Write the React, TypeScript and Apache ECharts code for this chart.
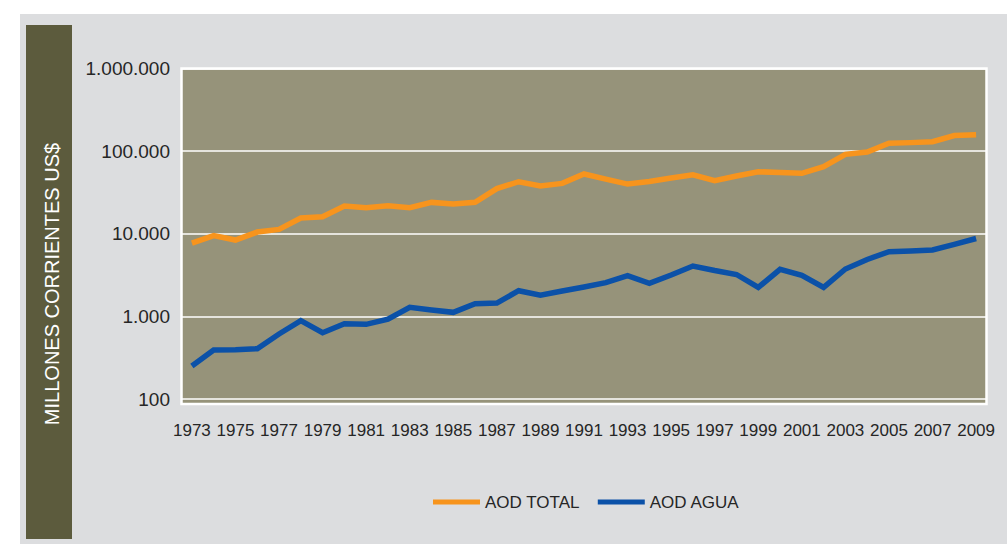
import React, { useEffect, useRef } from "react";
import * as echarts from "echarts";

const years: string[] = [
  "1973","1974","1975","1976","1977","1978","1979","1980","1981","1982",
  "1983","1984","1985","1986","1987","1988","1989","1990","1991","1992",
  "1993","1994","1995","1996","1997","1998","1999","2000","2001","2002",
  "2003","2004","2005","2006","2007","2008","2009",
];

const aodTotal: number[] = [
  7700, 9500, 8400, 10500, 11300, 15500, 16100, 21700, 20700, 21900,
  20700, 24000, 23000, 24100, 35300, 42700, 37900, 40800, 53000, 46000,
  40000, 43000, 47300, 51900, 44000, 50100, 56400, 55200, 54000, 64900,
  91700, 97800, 124700, 127000, 130300, 154900, 158300,
];

const aodAgua: number[] = [
  251, 392, 396, 406, 612, 887, 635, 816, 802, 923,
  1290, 1196, 1120, 1425, 1450, 2047, 1800, 2030, 2270, 2560,
  3110, 2515, 3170, 4075, 3590, 3215, 2240, 3718, 3146, 2240,
  3750, 4890, 6070, 6180, 6370, 7460, 8770,
];

const seriesNames: string[] = ["AOD TOTAL", "AOD AGUA"];
const yAxisTitle = "MILLONES CORRIENTES US$";

const fmt = (v: number) =>
  String(Math.round(v)).replace(/\B(?=(\d{3})+(?!\d))/g, ".");

export default function App() {
  const ref = useRef<HTMLDivElement>(null);
  useEffect(() => {
    if (!ref.current) return;
    const chart = echarts.init(ref.current, undefined, { renderer: "svg" });
    const font = "'Liberation Sans', Arial, sans-serif";
    chart.setOption({
      animation: false,
      backgroundColor: "#ffffff",
      textStyle: { fontFamily: font },
      graphic: [
        {
          type: "rect",
          z: -20,
          shape: { x: 20, y: 14, width: 987, height: 530 },
          style: { fill: "#dcdddf" },
        },
        {
          type: "rect",
          z: -19,
          shape: { x: 26, y: 25, width: 46, height: 514 },
          style: { fill: "#5c5b3d" },
        },
        {
          type: "rect",
          z: -18,
          shape: { x: 181.5, y: 68.5, width: 805, height: 335.5 },
          style: { fill: "#96937a", stroke: "#ffffff", lineWidth: 2.5 },
        },
        {
          type: "text",
          z: 10,
          x: 52,
          y: 284,
          rotation: Math.PI / 2,
          style: {
            text: yAxisTitle,
            fill: "#ffffff",
            font: `20px ${font}`,
            align: "center",
            verticalAlign: "middle",
          },
        },
      ],
      grid: { left: 181, right: 20, top: 68.6, height: 330.4, containLabel: false },
      legend: {
        left: 433,
        top: 492,
        padding: 0,
        itemWidth: 47,
        itemHeight: 5,
        itemGap: 18,
        icon: "rect",
        textStyle: { fontSize: 17, color: "#262626", fontFamily: font, lineHeight: 20 },
        data: seriesNames,
      },
      xAxis: {
        type: "category",
        data: years,
        boundaryGap: true,
        axisLine: { show: false },
        axisTick: { show: false },
        axisLabel: {
          interval: 1,
          margin: 23,
          fontSize: 17,
          color: "#262626",
          fontFamily: font,
        },
      },
      yAxis: {
        type: "log",
        logBase: 10,
        min: 100,
        max: 1000000,
        axisLine: { show: false },
        axisTick: { show: false },
        splitLine: { show: true, lineStyle: { color: "#ffffff", width: 1.5 } },
        axisLabel: {
          margin: 11,
          fontSize: 19,
          color: "#262626",
          fontFamily: font,
          padding: [3, 0, 0, 0],
          formatter: (v: number) => fmt(v),
        },
      },
      series: [
        {
          name: seriesNames[0],
          type: "line",
          data: aodTotal,
          symbol: "none",
          color: "#f7941d",
          lineStyle: { width: 5.5, color: "#f7941d", cap: "butt", join: "miter" },
        },
        {
          name: seriesNames[1],
          type: "line",
          data: aodAgua,
          symbol: "none",
          color: "#0b51a8",
          lineStyle: { width: 5.5, color: "#0b51a8", cap: "butt", join: "miter" },
        },
      ],
    });
    return () => chart.dispose();
  }, []);
  return (
    <div
      ref={ref}
      style={{ position: "fixed", left: 0, top: 0, width: 1007, height: 544 }}
    />
  );
}
